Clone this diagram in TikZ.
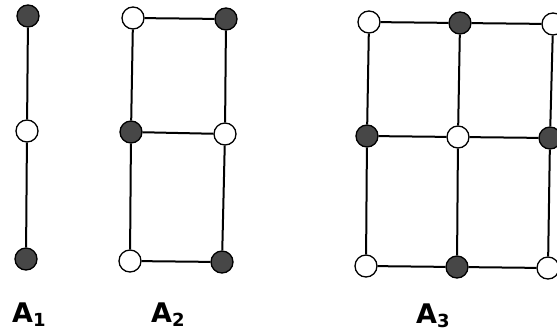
\documentclass[tikz,border=0pt]{standalone}
\usepackage{fontspec}
\setmainfont{DejaVu Sans}
\tikzset{
  x=1pt, y=-1pt,
  vtx/.style={circle, draw=black, line width=1.3pt, minimum size=22pt, inner sep=0pt},
  wv/.style={vtx, fill=white},
  dv/.style={vtx, fill=black!72},
  edge/.style={draw=black, line width=2pt},
  lab/.style={anchor=base west, inner sep=0pt, font=\fontsize{27}{27}\selectfont\bfseries}
}
\newcommand{\labsub}[2]{#1\raisebox{-4pt}{\fontsize{18}{18}\selectfont\bfseries #2}}
\begin{document}
\begin{tikzpicture}
\useasboundingbox[fill=white] (0,0) rectangle (557,330);
% A1
\node[dv] (a1t) at (28,16) {};
\node[wv] (a1m) at (27,131) {};
\node[dv] (a1b) at (26,259) {};
% A2
\node[wv] (a2tl) at (133,18) {};
\node[dv] (a2tr) at (226,19) {};
\node[dv] (a2ml) at (131,132) {};
\node[wv] (a2mr) at (225,134) {};
\node[wv] (a2bl) at (130,261) {};
\node[dv] (a2br) at (222,262) {};
% A3
\node[wv] (a3tl) at (369,22) {};
\node[dv] (a3tm) at (460,23) {};
\node[wv] (a3tr) at (553,24) {};
\node[dv] (a3ml) at (367,136) {};
\node[wv] (a3mm) at (458,137) {};
\node[dv] (a3mr) at (550,138) {};
\node[wv] (a3bl) at (366,266) {};
\node[dv] (a3bm) at (457,267) {};
\node[wv] (a3br) at (548,268) {};
% edges
\path[edge] (a1t) -- (a1m) -- (a1b);
\path[edge] (a2tl) -- (a2tr) -- (a2mr) -- (a2br) -- (a2bl) -- (a2ml) -- (a2tl);
\path[edge] (a2ml) -- (a2mr);
\path[edge] (a3tl) -- (a3tm) -- (a3tr) -- (a3mr) -- (a3br) -- (a3bm) -- (a3bl) -- (a3ml) -- (a3tl);
\path[edge] (a3ml) -- (a3mm) -- (a3mr);
\path[edge] (a3tm) -- (a3mm) -- (a3bm);
% labels
\node[lab] (l1) at (12,322) {\labsub{A}{1}};
\node[lab] (l2) at (151,322) {\labsub{A}{2}};
\node[lab] (l3) at (416,323) {\labsub{A}{3}};
\end{tikzpicture}
\end{document}
